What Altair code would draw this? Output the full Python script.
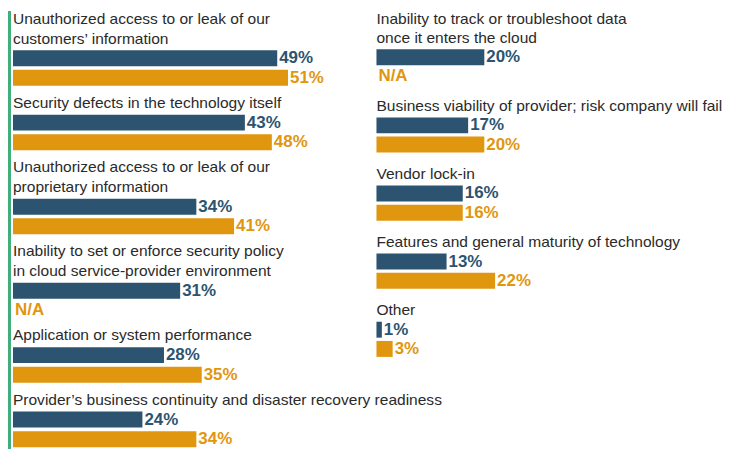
import altair as alt
import pandas as pd

# ---- data ----
SERIES = ["Series 1", "Series 2"]

left_labels = [
    "Unauthorized access to or leak of our\ncustomers’ information",
    "Security defects in the technology itself",
    "Unauthorized access to or leak of our\nproprietary information",
    "Inability to set or enforce security policy\nin cloud service-provider environment",
    "Application or system performance",
    "Provider’s business continuity and disaster recovery readiness",
]
left_s1 = [49, 43, 34, 31, 28, 24]
left_s2 = [51, 48, 41, None, 35, 34]

right_labels = [
    "Inability to track or troubleshoot data\nonce it enters the cloud",
    "Business viability of provider; risk company will fail",
    "Vendor lock-in",
    "Features and general maturity of technology",
    "Other",
]
right_s1 = [20, 17, 16, 13, 1]
right_s2 = [None, 20, 16, 22, 3]

# ---- style ----
DARK = "#2c5470"
ORANGE = "#e0960e"
GREEN = "#3fae7a"
LABEL_FONT = "Liberation Sans, Arial, sans-serif"
VALUE_FONT = "Liberation Sans, Arial, sans-serif"
W = 352
H = 440
XMAX = 65
TOP = -0.41


def build(labels, s1, s2, gap):
    recs = []
    row = 0
    for gi, (lab, a, b) in enumerate(zip(labels, s1, s2)):
        for line in lab.split("\n"):
            recs.append(dict(kind="label", u=row + gi * gap, text=line,
                             value=None, series=None, xpos=0))
            row += 1
        for ser, v in ((SERIES[0], a), (SERIES[1], b)):
            recs.append(dict(kind="bar", u=row + gi * gap,
                             text=f"{v}%" if v is not None else "N/A",
                             value=v, series=ser,
                             xpos=v if v is not None else 0))
            row += 1
    return pd.DataFrame(recs)


def panel(df, px_per_row, strip=False):
    xs = alt.Scale(domain=[0, XMAX], nice=False, zero=False, padding=0)
    ys = alt.Scale(domain=[TOP, TOP + H / px_per_row], reverse=True,
                   nice=False, zero=False, padding=0)
    cs = alt.Scale(domain=SERIES, range=[DARK, ORANGE])
    base = alt.Chart(df)
    labels = base.transform_filter("datum.kind == 'label'").mark_text(
        align="left", baseline="middle", font=LABEL_FONT, fontSize=15.6,
        color="#2a2a2a"
    ).encode(
        x=alt.X("xpos:Q", scale=xs, axis=None),
        y=alt.Y("u:Q", scale=ys, axis=None),
        text="text:N",
    )
    bars = base.transform_filter(
        "datum.kind == 'bar' && isValid(datum.value)"
    ).transform_calculate(zero="0").mark_bar(size=16).encode(
        x=alt.X("value:Q", scale=xs, axis=None),
        x2="zero:Q",
        y=alt.Y("u:Q", scale=ys, axis=None),
        color=alt.Color("series:N", scale=cs, legend=None),
    )
    values = base.transform_filter("datum.kind == 'bar'").mark_text(
        align="left", baseline="middle", dx=2, font=VALUE_FONT,
        fontSize=17, fontWeight="bold"
    ).encode(
        x=alt.X("xpos:Q", scale=xs, axis=None),
        y=alt.Y("u:Q", scale=ys, axis=None),
        text="text:N",
        color=alt.Color("series:N", scale=cs, legend=None),
    )
    layers = [bars, labels, values]
    if strip:
        rule = alt.Chart(pd.DataFrame({"k": [0]})).mark_rule(
            color=GREEN, strokeWidth=3
        ).encode(x=alt.value(-3.5), y=alt.value(0), y2=alt.value(H))
        layers.insert(0, rule)
    return alt.layer(*layers).properties(width=W, height=H)


left_df = build(left_labels, left_s1, left_s2, 0.284)
right_df = build(right_labels, right_s1, right_s2, 0.544)

chart = alt.hconcat(
    panel(left_df, 19.7, strip=True),
    panel(right_df, 19.3),
    spacing=13,
    bounds="flush",
).resolve_scale(x="independent", y="independent").properties(
    padding={"left": 0, "top": 0, "right": 0, "bottom": 0},
    background="white",
).configure_view(stroke=None)

chart.save("out.html", embed_options={"renderer": "svg", "actions": False})
